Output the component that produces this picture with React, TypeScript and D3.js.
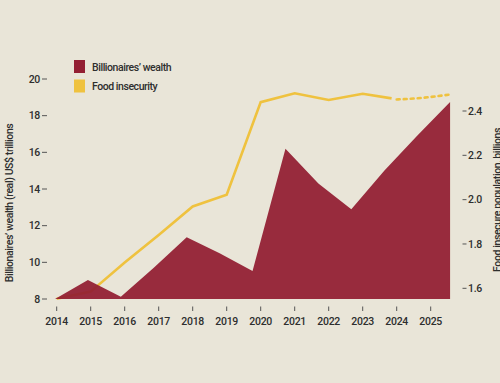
import React from "react";
import * as d3 from "d3";

const W = 500;
const H = 383;

// Billionaires' wealth (US$ trillions), 13 evenly spaced observations
const wealthValues = [8.0, 9.04, 8.12, 9.7, 11.37, 10.5, 9.53, 16.2, 14.3, 12.9, 15.0, 16.9, 18.75];

// Food insecure population (billions)
const foodYears = [2014, 2015, 2016, 2017, 2018, 2019, 2020, 2021, 2022, 2023, 2023.85];
const foodValues = [1.553, 1.585, 1.716, 1.841, 1.969, 2.022, 2.44, 2.48, 2.45, 2.478, 2.457];
const projYears = [2024, 2024.8, 2025.55];
const projValues = [2.452, 2.46, 2.474];

const yearTicks = [2014, 2015, 2016, 2017, 2018, 2019, 2020, 2021, 2022, 2023, 2024, 2025];
const leftTicks = [8, 10, 12, 14, 16, 18, 20];
const rightTicks = [1.6, 1.8, 2.0, 2.2, 2.4];

const legendItems = ["Billionaires\u2019 wealth", "Food insecurity"];

const BG = "#e9e5d8";
const RED = "#931f33";
const YELLOW = "#efc23f";
const TEXT = "#2e2e2e";
const FONT = "Roboto, 'Noto Sans', sans-serif";

export default function App() {
  const x = d3.scaleLinear().domain([2014, 2025]).range([56.7, 430.7]);
  const yL = d3.scaleLinear().domain([8, 20]).range([299, 79]);
  const yR = d3.scaleLinear().domain([1.6, 2.4]).range([288.3, 111]);
  const xW = d3
    .scaleLinear()
    .domain([0, wealthValues.length - 1])
    .range([x(2013.95), x(2025.57)]);

  const area = d3
    .area<number>()
    .x((_, i) => xW(i))
    .y0(yL(8))
    .y1((d) => yL(d));

  const line = d3
    .line<number>()
    .x((_, i) => x(foodYears[i]))
    .y((d) => yR(d));

  const projLine = d3
    .line<number>()
    .x((_, i) => x(projYears[i]))
    .y((d) => yR(d))
    .curve(d3.curveMonotoneX);

  return (
    <svg
      width={W}
      height={H}
      style={{ position: "absolute", left: 0, top: 0, display: "block" }}
      fontFamily={FONT}
      fontWeight={500}
    >
      <rect x={0} y={0} width={W} height={H} fill={BG} />

      {/* food insecurity line (behind the area) */}
      <path
        d={line(foodValues) || ""}
        fill="none"
        stroke={YELLOW}
        strokeWidth={2.6}
        strokeLinejoin="miter"
      />
      <path
        d={projLine(projValues) || ""}
        fill="none"
        stroke={YELLOW}
        strokeWidth={2.6}
        strokeDasharray="3 4"
        strokeLinecap="round"
      />

      {/* wealth area */}
      <path d={area(wealthValues) || ""} fill={RED} fillOpacity={0.94} />

      {/* left axis */}
      {leftTicks.map((t) => (
        <g key={"l" + t}>
          <line x1={42} x2={47} y1={yL(t)} y2={yL(t)} stroke="#555" strokeWidth={1} />
          <text
            x={40}
            y={yL(t)}
            dy="0.36em"
            textAnchor="end"
            fontSize={10.5}
            letterSpacing={-0.3}
            fill={TEXT}
          >
            {t}
          </text>
        </g>
      ))}

      {/* right axis */}
      {rightTicks.map((t) => (
        <g key={"r" + t}>
          <line x1={462.5} x2={466.5} y1={yR(t)} y2={yR(t)} stroke="#555" strokeWidth={1} />
          <text
            x={468}
            y={yR(t)}
            dy="0.36em"
            textAnchor="start"
            fontSize={10.5}
            letterSpacing={-0.3}
            fill={TEXT}
          >
            {d3.format(".1f")(t)}
          </text>
        </g>
      ))}

      {/* x axis */}
      {yearTicks.map((t) => (
        <g key={"x" + t}>
          <line x1={x(t)} x2={x(t)} y1={306.5} y2={311} stroke="#555" strokeWidth={1} />
          <text
            x={x(t)}
            y={325}
            textAnchor="middle"
            fontSize={10.5}
            letterSpacing={-0.3}
            fill={TEXT}
          >
            {t}
          </text>
        </g>
      ))}

      {/* axis titles */}
      <text
        transform={`translate(12.5, 203) rotate(-90)`}
        textAnchor="middle"
        fontSize={10.5}
        letterSpacing={-0.4}
        fill={TEXT}
      >
        Billionaires’ wealth (real) US$ trillions
      </text>
      <text
        transform={`translate(501, 200) rotate(-90)`}
        textAnchor="middle"
        fontSize={10.5}
        letterSpacing={-0.4}
        fill={TEXT}
      >
        Food insecure population, billions
      </text>

      {/* legend */}
      {legendItems.map((label, i) => (
        <g key={label} transform={`translate(74, ${60 + i * 19.5})`}>
          <rect x={0} y={0} width={11} height={13} fill={i === 0 ? RED : YELLOW} />
          <text
            x={18}
            y={10.6}
            fontSize={10.5}
            letterSpacing={-0.45}
            fill={TEXT}
          >
            {label}
          </text>
        </g>
      ))}
    </svg>
  );
}
